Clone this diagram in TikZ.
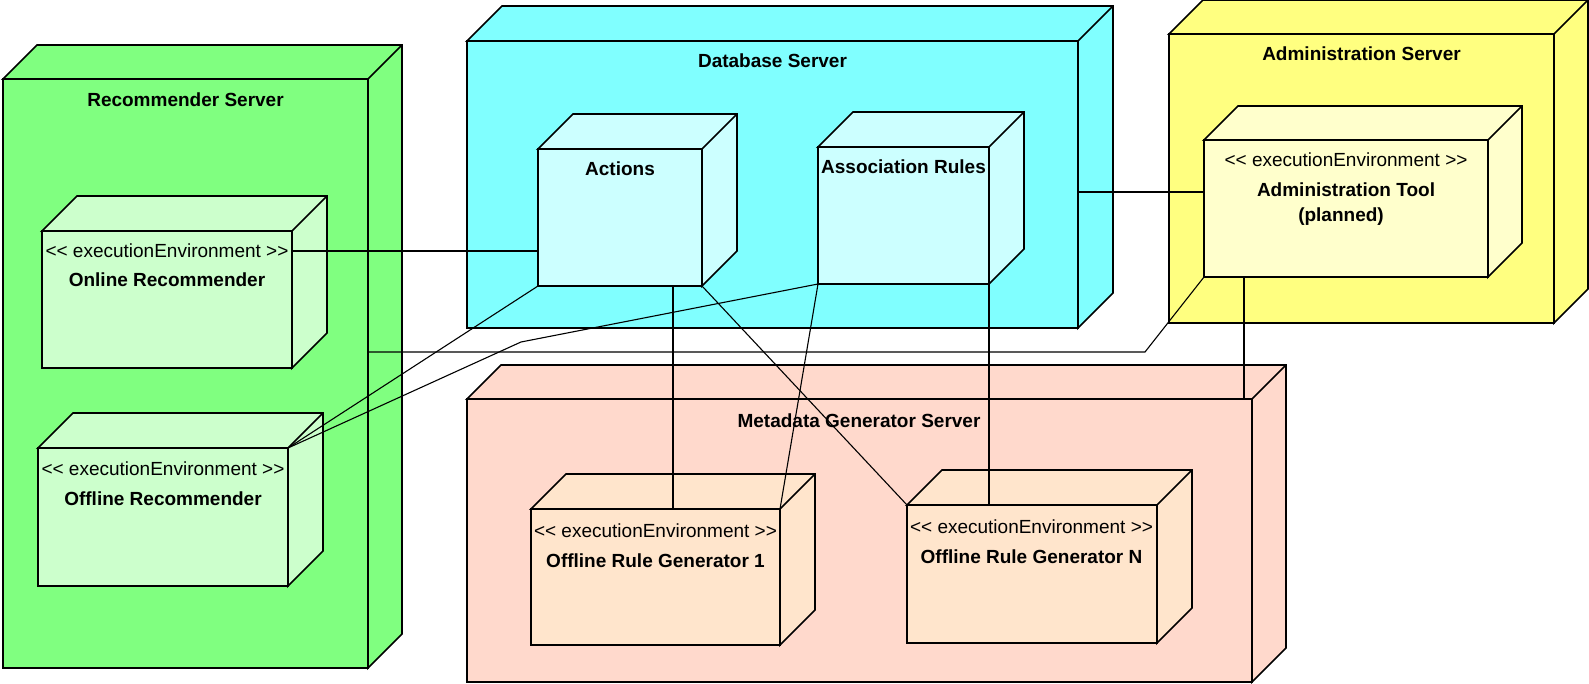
\documentclass[tikz,border=0pt]{standalone}
\usepackage{fontspec}
\setmainfont{Liberation Sans}
\usetikzlibrary{calc}

\definecolor{recgreen}{RGB}{128,255,128}
\definecolor{recgreenlt}{RGB}{204,255,204}
\definecolor{dbcyan}{RGB}{128,255,255}
\definecolor{dbcyanlt}{RGB}{204,255,255}
\definecolor{admyellow}{RGB}{255,255,128}
\definecolor{admyellowlt}{RGB}{255,255,204}
\definecolor{metasalmon}{RGB}{255,217,204}
\definecolor{metapeach}{RGB}{255,229,204}

% 3D deployment node: name, x, y (front top-left), width, height, depth, fill
\newcommand{\ddbox}[7]{%
  \node[face, fill=#7, minimum width=#4pt, minimum height=#5pt] (#1) at (#2,#3) {};
  \draw[facedraw, fill=#7] (#1.north west) -- ++(#6pt,#6pt)
    -- ([shift={(#6pt,#6pt)}]#1.north east)
    -- ([shift={(#6pt,#6pt)}]#1.south east)
    -- (#1.south east) -- (#1.north east) -- cycle;
  \draw[facedraw] (#1.north east) -- ++(#6pt,#6pt);
}
% stereotype text, written so the angle brackets are not merged into guillemets
\newcommand{\execenv}{<{}< executionEnvironment >{}>}

\tikzset{
  facedraw/.style={draw=black, line width=1.7pt, line join=miter},
  face/.style={facedraw, rectangle, inner sep=0pt, outer sep=0pt, anchor=north west},
  title/.style={font=\bfseries\fontsize{19}{22}\selectfont, anchor=base, inner sep=0pt},
  stereo/.style={font=\fontsize{19}{22}\selectfont, anchor=base, inner sep=0pt},
  link/.style={draw=black, line width=1.1pt},
}

\begin{document}
\begin{tikzpicture}[x=1pt,y=-1pt]
\useasboundingbox (0,0) rectangle (1589,684);

% servers
\ddbox{rec}{3}{79}{365}{589}{34}{recgreen}
\ddbox{db}{467}{41}{611}{287}{35}{dbcyan}
\ddbox{adm}{1169}{34}{385}{289}{34}{admyellow}
\ddbox{meta}{467}{399}{785}{283}{34}{metasalmon}

% components inside the servers
\ddbox{onl}{42}{231}{250}{137}{35}{recgreenlt}
\ddbox{offr}{38}{448}{250}{138}{35}{recgreenlt}
\ddbox{act}{538}{149}{164}{137}{35}{dbcyanlt}
\ddbox{assoc}{818}{147}{171}{137}{35}{dbcyanlt}
\ddbox{tool}{1204}{140}{284}{137}{34}{admyellowlt}
\ddbox{org1}{531}{509}{249}{136}{35}{metapeach}
\ddbox{orgN}{907}{505}{250}{138}{35}{metapeach}

% labels
\node[title] (recT) at (185.5,106.5) {Recommender Server};
\node[title] (dbT) at (772.5,68) {Database Server};
\node[title] (admT) at (1361.5,61) {Administration Server};
\node[title] (metaT) at (859,427) {Metadata Generator Server};

\node[stereo] (onlS) at (167,258) {\execenv};
\node[title] (onlT) at (167,287) {Online Recommender};
\node[stereo] (offrS) at (163,475) {\execenv};
\node[title] (offrT) at (163,505) {Offline Recommender};
\node[title] (actT) at (620,176) {Actions};
\node[title] (assocT) at (903.5,174) {Association Rules};
\node[stereo] (toolS) at (1346,167) {\execenv};
\node[title] (toolT) at (1346,197) {Administration Tool};
\node[title] (toolP) at (1341,222) {(planned)};
\node[stereo] (org1S) at (655.5,537) {\execenv};
\node[title] (org1T) at (655.5,567) {Offline Rule Generator 1};
\node[stereo] (orgNS) at (1031.5,533) {\execenv};
\node[title] (orgNT) at (1031.5,563) {Offline Rule Generator N};

% routing points
\coordinate (bendA) at (521,342);
\coordinate (bendB) at (1145,352);

% connectors
\draw[link] ([yshift=-20pt]onl.north east) -- ([yshift=-20pt]onl.north east -| act.west);
\draw[link] (act.south west) -- (offr.north east);
\draw[link] (assoc.south west) -- (bendA) -- (offr.north east);
\draw[link] ([xshift=53pt]act.south) -- ([xshift=53pt]act.south |- org1.north);
\draw[link] (act.south east) -- (orgN.north west);
\draw[link] (assoc.south west) -- (org1.north east);
\draw[link] (assoc.south east) -- (assoc.south east |- orgN.north);
\draw[link] ([xshift=40pt]tool.south west) -- ([xshift=40pt]tool.south west |- meta.north);
\draw[link] ([yshift=-52pt]tool.north west) -- ([yshift=-52pt]tool.north west -| db.east);
\draw[link] (bendB -| rec.east) -- (bendB) -- (tool.south west);
\end{tikzpicture}
\end{document}
